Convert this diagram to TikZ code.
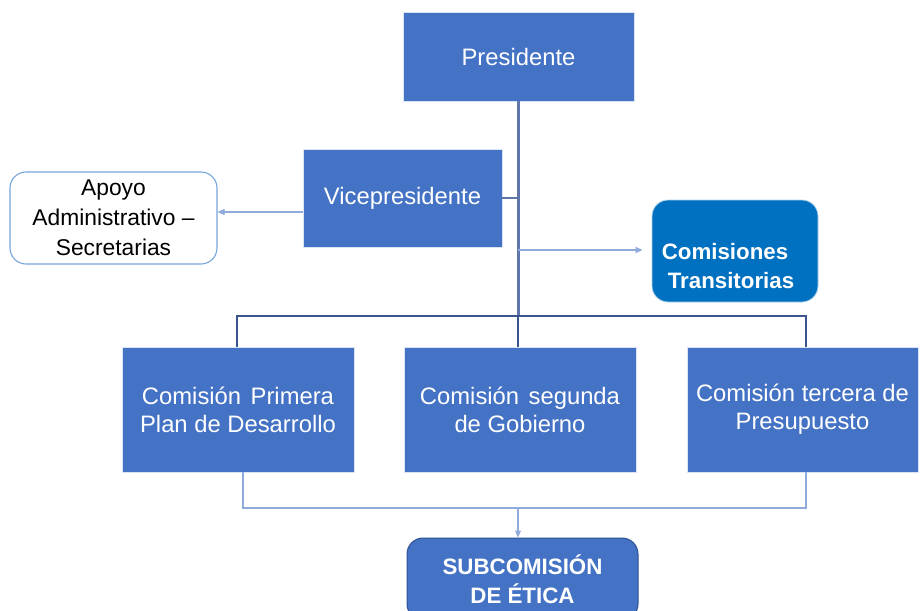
\documentclass[tikz,border=0pt]{standalone}
\usepackage{fontspec}
\setmainfont{Liberation Sans}
\usetikzlibrary{arrows.meta}

\definecolor{boxblue}{RGB}{68,114,196}
\definecolor{darkblue}{RGB}{0,112,192}
\definecolor{edgeblue}{RGB}{47,82,143}
\definecolor{lightline}{RGB}{143,170,220}
\definecolor{trunkline}{RGB}{96,118,168}
\definecolor{busline}{RGB}{58,84,144}
\definecolor{apoyoline}{RGB}{120,165,220}

\tikzset{
  cargo/.style={rectangle, fill=boxblue, draw=white!80!boxblue, line width=0.6pt,
    text=white, align=center, font=\fontsize{23.8}{28}\selectfont},
  redondo/.style={rectangle, rounded corners=16pt, align=center,
    font=\bfseries\fontsize{22.3}{29.5}\selectfont},
  flecha/.style={draw=lightline, line width=1.1pt, -{Triangle[length=7pt,width=6pt]}},
  enlace/.style={draw=lightline, line width=1.1pt}
}

\begin{document}
\begin{tikzpicture}[x=1pt, y=-1pt]

    % --- Canvas ---
    \clip (0,0) rectangle (920,610);

    % --- Boxes ---
    \node[cargo, minimum width=231pt, minimum height=89pt] (Pres) at (518.5,56.5) {Presidente};
    \node[cargo, minimum width=199pt, minimum height=98pt] (Vice) at (402.5,198) {Vicepresidente};

    % Apoyo (white rounded box)
    \node[rectangle, rounded corners=16pt, draw=apoyoline, line width=1.1pt, fill=white,
          minimum width=207pt, minimum height=92pt, align=center,
          font=\fontsize{22.8}{30}\selectfont] (Apoyo) at (113.5,218)
          {Apoyo\\Administrativo --\\Secretarias};

    % Comisiones transitorias (text sits low and left in the box)
    \node[redondo, fill=darkblue, draw=white!70!darkblue, line width=0.8pt, text=white,
          minimum width=166pt, minimum height=102pt] (Trans) at (735,251)
          {\rule{0pt}{46pt}Comisiones\hspace*{20pt}\\Transitorias\hspace*{8pt}};

    % Comisiones permanentes
    \node[cargo, minimum width=232pt, minimum height=125pt] (Prim) at (238,409.5)
          {Comisión\hspace{0.4em}Primera\\Plan de Desarrollo};
    \node[cargo, minimum width=232pt, minimum height=125pt] (Seg) at (520,409.5)
          {Comisión\hspace{0.4em}segunda\\de Gobierno};
    \node[cargo, minimum width=231pt, minimum height=125pt] (Terc) at (802.5,409.5)
          {Comisión tercera de\\Presupuesto};

    % Subcomision (bottom cut off by the canvas)
    \node[redondo, fill=boxblue, draw=edgeblue, line width=1pt, text=white,
          minimum width=231pt, minimum height=82pt] (Etica) at (522.5,579)
          {SUBCOMISIÓN\\DE ÉTICA};

    % --- Connector points ---
    \coordinate (TrunkEnd) at (518,316);
    \coordinate (BusL) at (237,316);
    \coordinate (BusR) at (806,316);
    \coordinate (ViceJoin) at (518,198);
    \coordinate (TransJoin) at (518,250);
    \coordinate (LowL) at (243,508);
    \coordinate (LowR) at (806,508);
    \coordinate (LowM) at (518,508);

    % --- Lines ---
    % main trunk from the president
    \draw[trunkline, line width=3pt] (Pres.south -| TrunkEnd) -- (TrunkEnd);
    \draw[trunkline, line width=1.5pt] (Vice.east) -- (ViceJoin);

    % horizontal bus to the three commissions
    \draw[busline, line width=1.6pt] (Prim.north -| BusL) -- (BusL) -- (BusR) -- (Terc.north -| BusR);
    \draw[busline, line width=1.6pt] (TrunkEnd) -- (Seg.north -| TrunkEnd);

    % arrows to side boxes
    \draw[flecha] (Vice.west |- 0,212) -- (Apoyo.east |- 0,212);
    \draw[flecha] (TransJoin) -- ([xshift=-9pt]Trans.west |- TransJoin);

    % bottom join to the subcommission
    \draw[enlace] (Prim.south -| LowL) -- (LowL) -- (LowR) -- (Terc.south -| LowR);
    \draw[flecha] (LowM) -- (Etica.north -| LowM);

\end{tikzpicture}
\end{document}
